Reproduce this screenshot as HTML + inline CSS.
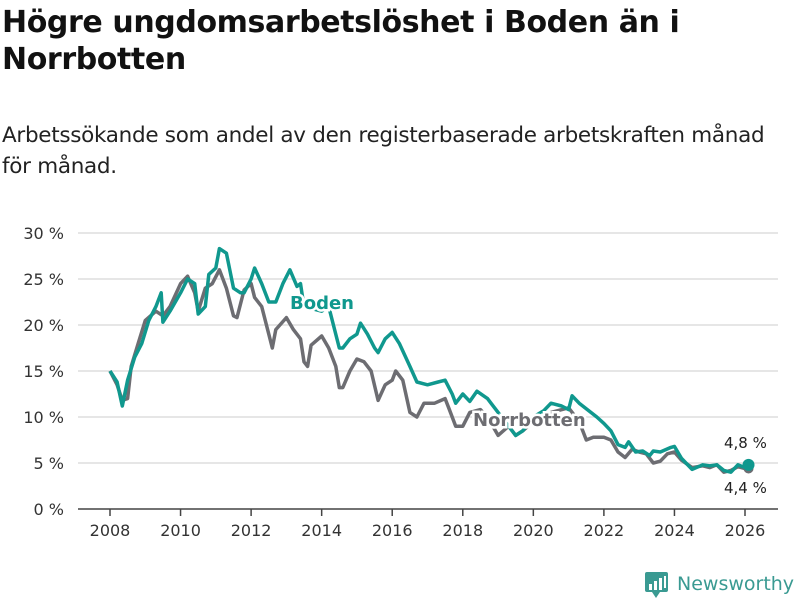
<!DOCTYPE html>
<html><head><meta charset="utf-8"><style>
body{margin:0;width:800px;height:600px;background:#fff;font-family:"Liberation Sans","DejaVu Sans",sans-serif;overflow:hidden;position:relative}
h1{position:absolute;left:2px;top:4px;margin:0;font-size:30px;line-height:37px;font-weight:bold;color:#111;font-family:"DejaVu Sans",sans-serif;letter-spacing:-0.4px}
p{position:absolute;left:2px;top:120px;margin:0;font-size:21.5px;line-height:31px;color:#222;font-family:"DejaVu Sans",sans-serif;letter-spacing:-0.3px;white-space:nowrap}
svg{position:absolute;left:0;top:0}
</style></head><body>
<h1>Högre ungdomsarbetslöshet i Boden än i<br>Norrbotten</h1>
<p>Arbetssökande som andel av den registerbaserade arbetskraften månad<br>för månad.</p>
<svg id="c" width="800" height="600"></svg>
<script>
const yTicks=[0,5,10,15,20,25,30];
const xTicks=[2008,2010,2012,2014,2016,2018,2020,2022,2024,2026];
const norrT=[2008.0,2008.2,2008.35,2008.5,2008.6,2008.8,2009.0,2009.3,2009.5,2009.7,2010.0,2010.2,2010.4,2010.5,2010.7,2010.9,2011.1,2011.3,2011.5,2011.6,2011.8,2012.0,2012.1,2012.3,2012.5,2012.6,2012.7,2013.0,2013.2,2013.4,2013.5,2013.6,2013.7,2014.0,2014.2,2014.4,2014.5,2014.6,2014.8,2015.0,2015.2,2015.4,2015.6,2015.8,2016.0,2016.1,2016.3,2016.5,2016.7,2016.9,2017.2,2017.5,2017.6,2017.8,2018.0,2018.2,2018.5,2018.7,2019.0,2019.3,2019.5,2019.7,2020.0,2020.5,2021.0,2021.3,2021.5,2021.7,2022.0,2022.2,2022.4,2022.6,2022.8,2023.0,2023.2,2023.4,2023.6,2023.8,2024.0,2024.2,2024.5,2024.8,2025.0,2025.2,2025.4,2025.6,2025.8,2026.0,2026.1];
const norrV=[15,13.5,11.8,12,15.5,18,20.5,21.5,21,22,24.5,25.3,23.5,21.5,24,24.5,26,24,21,20.8,23.8,24.5,23,22,19,17.5,19.5,20.8,19.5,18.5,16,15.5,17.8,18.8,17.5,15.5,13.2,13.2,15,16.3,16,15,11.8,13.5,14,15,14,10.5,10,11.5,11.5,12,11,9,9,10.5,10.8,10,8,9,8,8.5,9.5,10.5,11,9.5,7.5,7.8,7.8,7.5,6.2,5.6,6.5,6.2,6,5,5.2,6,6.2,5.3,4.5,4.7,4.5,4.8,4.0,4.2,4.6,4.4,4.4];
const bodT=[2008.0,2008.2,2008.35,2008.5,2008.7,2008.9,2009.1,2009.3,2009.45,2009.5,2009.7,2010.0,2010.2,2010.4,2010.5,2010.7,2010.8,2011.0,2011.1,2011.3,2011.5,2011.7,2011.8,2012.0,2012.1,2012.3,2012.5,2012.7,2012.9,2013.1,2013.3,2013.4,2013.5,2014.0,2014.2,2014.5,2014.6,2014.8,2015.0,2015.1,2015.3,2015.5,2015.6,2015.8,2016.0,2016.2,2016.5,2016.7,2017.0,2017.3,2017.5,2017.7,2017.8,2018.0,2018.2,2018.4,2018.7,2018.8,2019.2,2019.5,2019.7,2020.0,2020.3,2020.5,2020.8,2021.0,2021.1,2021.3,2021.8,2022.0,2022.2,2022.4,2022.6,2022.7,2022.9,2023.1,2023.3,2023.4,2023.6,2023.9,2024.0,2024.2,2024.5,2024.8,2025.0,2025.2,2025.4,2025.6,2025.8,2026.0,2026.1];
const bodV=[15,13.8,11.2,14,16.5,18,20.5,22,23.5,20.3,21.5,23.5,25,24.5,21.2,22,25.5,26.2,28.3,27.8,24,23.5,23.5,25,26.2,24.5,22.5,22.5,24.5,26,24.2,24.5,22,21.5,22,17.5,17.5,18.5,19,20.2,19,17.5,17,18.5,19.2,18,15.5,13.8,13.5,13.8,14,12.5,11.5,12.5,11.7,12.8,12,11.5,9.5,8,8.5,10,10.7,11.5,11.2,10.8,12.3,11.5,10,9.3,8.5,7,6.7,7.3,6.2,6.3,5.8,6.3,6.2,6.7,6.8,5.5,4.3,4.8,4.7,4.8,4.2,4.0,4.8,4.5,4.8];
const x=t=>110+(t-2008)*(745-110)/18;
const y=v=>509-v*(509-233)/30;
const svg=document.getElementById('c');const NS='http://www.w3.org/2000/svg';
function mk(tag,attrs,parent){const e=document.createElementNS(NS,tag);for(const k in attrs)e.setAttribute(k,attrs[k]);(parent||svg).appendChild(e);return e;}
yTicks.forEach(v=>{
 if(v>0){const g=mk('line',{x1:78,x2:778,y1:y(v),y2:y(v),stroke:'#ddd','stroke-width':1.5});
 
 }
 const t=mk('text',{x:64,y:y(v)+6,'text-anchor':'end','font-size':16,fill:'#333','font-family':'DejaVu Sans, sans-serif'});t.textContent=v+' %';
 
 
});
const ax=mk('line',{x1:78,x2:778,y1:509,y2:509,stroke:'#444','stroke-width':1.5});


xTicks.forEach(v=>{
 mk('line',{x1:x(v),x2:x(v),y1:509,y2:516,stroke:'#444','stroke-width':1.5});
 const t=mk('text',{x:x(v),y:536,'text-anchor':'middle','font-size':16,fill:'#333','font-family':'DejaVu Sans, sans-serif'});t.textContent=v;
 
 
});
function line(T,V,col,name){const p=mk('path',{d:T.map((t,i)=>(i?'L':'M')+x(t).toFixed(1)+','+y(V[i]).toFixed(1)).join(''),fill:'none',stroke:col,'stroke-width':3.5,'stroke-linejoin':'round'});
 
 }
line(norrT,norrV,'#6d6d72','norrbotten-line');
line(bodT,bodV,'#10988e','boden-line');
const d1=mk('circle',{cx:x(norrT[norrT.length-1]),cy:y(norrV[norrV.length-1]),r:5,fill:'#6d6d72'});


const d2=mk('circle',{cx:x(bodT[bodT.length-1]),cy:y(bodV[bodV.length-1]),r:6,fill:'#10988e'});


function lab(tx,xx,yy,col,name,bold,size){const t=mk('text',{x:xx,y:yy,fill:col,'font-size':size,'font-weight':bold?'bold':'normal','font-family':'DejaVu Sans, sans-serif',stroke:'#fff','stroke-width':bold?5:0,'paint-order':'stroke'});t.textContent=tx;
 
 }
lab('Boden',290,309,'#10988e','boden-label',true,18);
lab('Norrbotten',473,426,'#6d6d72','norrbotten-label',true,18);
lab('4,8 %',724,448,'#222','boden-end-value',false,15);
lab('4,4 %',724,493,'#222','norrbotten-end-value',false,15);
const g=mk('g',{});


mk('rect',{x:645,y:572,width:23,height:20,rx:2,fill:'#3a9a92'},g);
mk('path',{d:'M652,592 L656,598 L660,592Z',fill:'#3a9a92'},g);
[[649,584,3,6],[654,581,3,9],[659,578,3,12],[664,576,2,12]].forEach(r=>mk('rect',{x:r[0],y:r[1],width:r[2],height:r[3],fill:'#fff'},g));
const lt=mk('text',{x:677,y:590,fill:'#3a9a92','font-size':19,'font-family':'DejaVu Sans, sans-serif'},g);lt.textContent='Newsworthy';
</script>
</body></html>
